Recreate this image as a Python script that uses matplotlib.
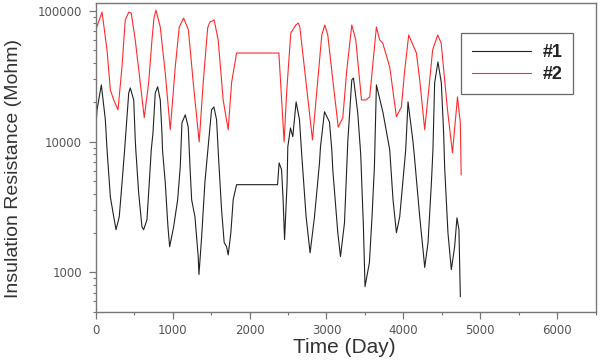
import matplotlib
matplotlib.use("Agg")
import matplotlib.pyplot as plt
from matplotlib.ticker import FixedLocator, FixedFormatter, MultipleLocator, LogLocator, NullFormatter

# Series #2 (red)
days2 = [0, 82, 147, 190, 234, 290, 341, 384, 429, 462, 514, 579, 631, 688, 731, 757, 783, 839, 904,
         969, 1034, 1086, 1143, 1205, 1268, 1345, 1397, 1455, 1484, 1540, 1592, 1657, 1722, 1766,
         1831, 2381, 2449, 2484, 2536, 2601, 2634, 2653, 2735, 2818, 2887, 2939, 2978, 3017, 3082,
         3153, 3212, 3264, 3329, 3381, 3455, 3510, 3562, 3649, 3692, 3731, 3822, 3909, 3974, 4017,
         4069, 4169, 4212, 4277, 4342, 4380, 4445, 4491, 4573, 4638, 4703, 4740, 4751]
res2 = [71300, 97700, 50100, 24800, 20800, 17500, 37200, 84900, 97700, 96000, 59700, 28100, 15200,
        28100, 59700, 87900, 101000, 75200, 33400, 12300, 37200, 75200, 87900, 71300, 28100, 9950, 28100,
        73800, 82000, 84900, 59700, 20800, 12300, 28100, 47500, 47500, 9950, 24800, 67600, 77800,
        80500, 75200, 28100, 10300, 29600, 65300, 77800, 65300, 29600, 12900, 15200, 35200, 77800,
        59700, 20800, 20800, 21900, 75200, 59700, 56600, 37200, 15500, 18400, 35200, 65300, 47500,
        29600, 12300, 29600, 50100, 65300, 56600, 17500, 8200, 21900, 13900, 5570]

# Series #1 (black)
days1 = [0, 17, 73, 125, 147, 190, 234, 264, 306, 342, 374, 429, 449, 494, 514, 521, 558, 601, 623,
         666, 696, 722, 744, 774, 805, 839, 861, 868, 904, 939, 961, 1013, 1065, 1099, 1121, 1164,
         1203, 1225, 1247, 1290, 1332, 1342, 1377, 1419, 1458, 1506, 1536, 1571, 1597, 1636, 1670,
         1701, 1722, 1757, 1787, 1831, 2364, 2384, 2416, 2436, 2455, 2488, 2497, 2532, 2562, 2605,
         2649, 2679, 2735, 2787, 2844, 2909, 2922, 2974, 3039, 3069, 3082, 3147, 3182, 3234, 3277,
         3329, 3351, 3406, 3445, 3480, 3501, 3558, 3592, 3623, 3649, 3735, 3822, 3865, 3909, 3952,
         3995, 4030, 4060, 4125, 4147, 4212, 4255, 4277, 4320, 4364, 4384, 4406, 4449, 4493, 4523,
         4536, 4579, 4623, 4666, 4696, 4722, 4740]
res1 = [12300, 17500, 27100, 14700, 8650, 3780, 2660, 2120, 2660, 4840, 8400, 23500, 25700, 20800,
        10300, 8650, 4060, 2230, 2120, 2520, 4840, 8650, 11600, 23500, 26200, 20800, 11600, 8650,
        4840, 2230, 1570, 2230, 3590, 6410, 13900, 16000, 12900, 6500, 3590, 2660, 1320, 962, 1870,
        4840, 8650, 17500, 18400, 14700, 7500, 3010, 1690, 1570, 1360, 2010, 3590, 4680, 4680, 6870,
        6080, 3590, 1780, 4840, 9110, 12700, 10900, 20100, 14700, 7800, 2660, 1410, 2660, 6870,
        9110, 16900, 14100, 8650, 6080, 2010, 1320, 2390, 10000, 29600, 30600, 16600, 8000, 2230,
        778, 1190, 2660, 6410, 27100, 16600, 8650, 3590, 2010, 2660, 5100, 8650, 20100, 9950, 7240,
        2660, 1490, 1090, 1690, 4840, 8650, 28100, 40600, 28100, 11600, 6410, 2010, 1050, 1570,
        2610, 2120, 653]

labels = ["#1", "#2"]
ytick_vals = [1000, 10000, 100000]
ytick_labels = ["1000", "10000", "100000"]

fig = plt.figure(figsize=(6.07, 3.63), dpi=100)
ax = fig.add_axes([0.1577, 0.1413, 0.8237, 0.8496])

ax.plot(days1, res1, color="#222222", lw=0.8, label=labels[0])
ax.plot(days2, res2, color="#ff2a2a", lw=0.8, label=labels[1])

ax.set_yscale("log")
ax.set_xlim(0, 6500)
ax.set_ylim(500, 114000)

ax.yaxis.set_major_locator(FixedLocator(ytick_vals))
ax.yaxis.set_major_formatter(FixedFormatter(ytick_labels))
ax.yaxis.set_minor_locator(LogLocator(base=10, subs=range(2, 10)))
ax.yaxis.set_minor_formatter(NullFormatter())
ax.xaxis.set_major_locator(MultipleLocator(1000))
ax.xaxis.set_minor_locator(MultipleLocator(500))

grey = "#777777"
for s in ax.spines.values():
    s.set_color(grey)
    s.set_linewidth(1.0)
ax.tick_params(axis="both", which="major", direction="out", length=5, width=0.9,
               color=grey, labelsize=8.5, labelcolor="#555555")
ax.tick_params(axis="y", which="major", pad=5)
ax.tick_params(axis="x", which="major", pad=4)
ax.tick_params(axis="both", which="minor", direction="out", length=2.5, width=0.8, color=grey)
ax.tick_params(top=False, right=False, which="both")

ax.set_xlabel("Time (Day)", fontsize=15, color="#333333", family="Liberation Sans", va="top")
ax.xaxis.set_label_coords(0.497, -0.086)
ax.set_ylabel("Insulation Resistance (Mohm)", fontsize=14, color="#333333",
              family="Liberation Sans")
ax.yaxis.set_label_coords(-0.147, 0.464)

leg = ax.legend(loc="upper left", bbox_to_anchor=(0.7306, 0.9037), frameon=True, fancybox=False,
                edgecolor="#444444", handlelength=3.3, handletextpad=0.6, borderpad=0.6,
                borderaxespad=0.0, labelspacing=0.3,
                prop={"family": "Liberation Sans", "weight": "bold", "size": 13})
leg.get_frame().set_linewidth(0.9)
for t in leg.get_texts():
    t.set_color("#222222")

fig.savefig("out.png", dpi=100)
